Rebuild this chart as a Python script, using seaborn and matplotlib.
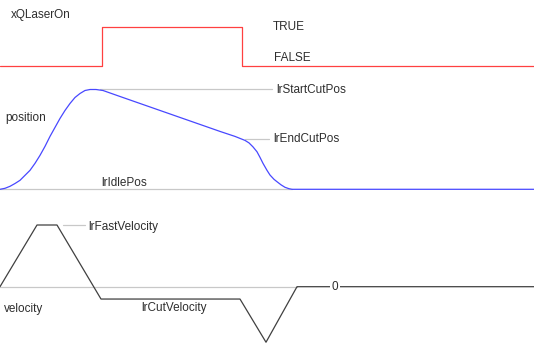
import numpy as np
import pandas as pd
import matplotlib
matplotlib.use("Agg")
import matplotlib.pyplot as plt
import seaborn as sns

sns.set_theme(style="white")
plt.rcParams['font.family'] = ['Liberation Sans', 'DejaVu Sans']

# ---- data (time in ms) ----
laser_t = [0, 102, 242, 534]
laser_state = [0, 1, 0, 0]

pos_t = [0, 5, 10, 15, 20, 25, 30, 35, 40, 45, 50, 55, 60, 65, 70, 75, 80, 85, 90, 96, 103,
         120, 140, 160, 180, 200, 220, 235, 240, 245, 249, 253, 257, 260, 263, 267, 270,
         274, 277, 281, 285, 289, 292, 534]
pos_val = [0, 1, 3, 5.8, 9, 14, 19, 26, 34, 43, 53, 62, 71, 79, 86, 92, 96, 99, 100, 100, 99,
           93, 86, 79, 72, 65, 58, 53, 51, 49, 46.5, 42.5, 37.6, 32, 26, 19, 14.3,
           10, 7.6, 4.5, 2, 0.6, 0, 0]

vel_t = [0, 37, 57, 101, 240, 266, 297, 534]
vel_val = [0, 100, 100, -20, -20, -90, 0, 0]

lrStartCutPos = 100
lrEndCutPos = 50
lrIdlePos = 0
lrFastVelocity = 100
lrCutVelocity = -20

W, H = 534, 348
fig = plt.figure(figsize=(W / 100, H / 100), dpi=100)
fig.patch.set_facecolor("white")


def make_axes(v0, p0, v1, p1, ylim):
    """Create an axes whose y-values v0/v1 fall on pixel rows p0/p1."""
    scale = (p0 - p1) / (v1 - v0)
    top_px = p0 - (ylim[1] - v0) * scale
    bot_px = p0 + (v0 - ylim[0]) * scale
    ax = fig.add_axes([0, 1 - bot_px / H, 1, (bot_px - top_px) / H])
    ax.set_xlim(0, W)
    ax.set_ylim(*ylim)
    ax.set_axis_off()
    ax.patch.set_alpha(0)
    return ax


txt = dict(fontsize=8.5, color="#2e2e2e", va="center", ha="left")
grey = "#c8c8c8"
lw = 0.9

# ---- laser ----
ax1 = make_axes(0, 66, 1, 26.7, (-0.5, 1.5))
df_l = pd.DataFrame({"t": laser_t, "v": laser_state})
sns.lineplot(data=df_l, x="t", y="v", ax=ax1, drawstyle="steps-post",
             color="#ff4040", lw=lw, clip_on=False)
ax1.text(11, 1.3, "xQLaserOn", **txt)
ax1.text(273, 1.0, "TRUE", **txt)
ax1.text(274, 0.2, "FALSE", **txt)
ax1.set_xlabel(""); ax1.set_ylabel("")

# ---- position ----
ax2 = make_axes(0, 189.3, 100, 89.5, (-15, 110))
ax2.plot([100, 272], [lrStartCutPos] * 2, color=grey, lw=lw)
ax2.plot([245, 269], [lrEndCutPos] * 2, color=grey, lw=lw)
ax2.plot([0, 292], [lrIdlePos] * 2, color=grey, lw=lw)
df_p = pd.DataFrame({"t": pos_t, "v": pos_val})
sns.lineplot(data=df_p, x="t", y="v", ax=ax2, color="#4848ff", lw=lw, clip_on=False)
ax2.text(5, 71, "position", **txt)
ax2.text(276, 99, "lrStartCutPos", **txt)
ax2.text(273, 50, "lrEndCutPos", **txt)
ax2.text(101, 6.5, "lrIdlePos", **txt)
ax2.set_xlabel(""); ax2.set_ylabel("")

# ---- velocity ----
ax3 = make_axes(0, 286.7, 100, 225, (-95, 105))
ax3.plot([0, 297], [0, 0], color=grey, lw=lw)
ax3.plot([63, 85], [lrFastVelocity] * 2, color=grey, lw=lw)
df_v = pd.DataFrame({"t": vel_t, "v": vel_val})
sns.lineplot(data=df_v, x="t", y="v", ax=ax3, color="#404040", lw=lw, clip_on=False)
ax3.text(4, -36, "velocity", **txt)
ax3.text(88, 97, "lrFastVelocity", **txt)
ax3.text(141, -34, "lrCutVelocity", **txt)
ax3.text(335, 0, "0", fontsize=8.5, color="#2e2e2e", va="center", ha="center",
         bbox=dict(facecolor="white", edgecolor="none", pad=1.2))
ax3.set_xlabel(""); ax3.set_ylabel("")

fig.savefig("out.png", dpi=100, facecolor="white")
